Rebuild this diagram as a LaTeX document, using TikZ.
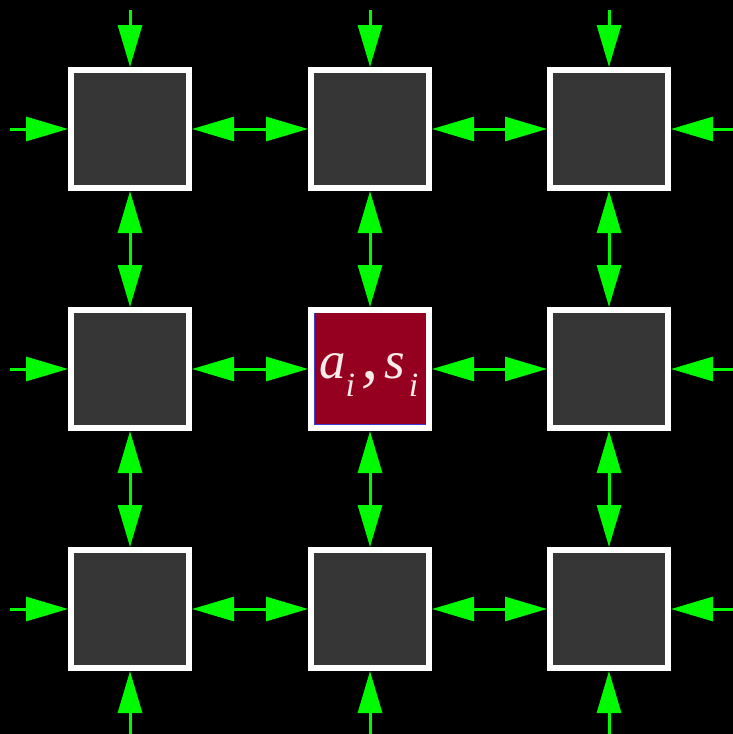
\documentclass[tikz,border=0pt]{standalone}
\usepackage{fontspec}
\setmainfont{Liberation Serif}
\usetikzlibrary{arrows.meta}
\definecolor{boxgray}{RGB}{54,54,54}
\definecolor{boxred}{RGB}{150,0,32}
\definecolor{arrgreen}{RGB}{0,250,0}
\definecolor{edgeblue}{RGB}{60,60,210}
\definecolor{txt}{RGB}{250,235,235}
\newcommand{\subi}{\raisebox{-18pt}{\fontsize{34}{34}\selectfont\itshape i}}
\tikzset{
  cell/.style={draw=white, line width=6pt, fill=boxgray, minimum size=118pt, inner sep=0pt, outer sep=0.5\pgflinewidth},
  redcell/.style={cell, fill=boxred},
  link/.style={draw=arrgreen, line width=3pt, arrows={Triangle[length=42pt,width=24pt]-Triangle[length=42pt,width=24pt]}},
  inlink/.style={draw=arrgreen, line width=3pt, arrows={-Triangle[length=42pt,width=24pt]}}
}
\begin{document}
\begin{tikzpicture}[x=1pt,y=-1pt]
\fill[black] (0,0) rectangle (733,734);
\useasboundingbox (0,0) rectangle (733,734);
% cells
\node[cell] (c11) at (130,129) {};
\node[cell] (c12) at (370,129) {};
\node[cell] (c13) at (609,129) {};
\node[cell] (c21) at (130,369) {};
\node[redcell] (c22) at (370,369) {};
\node[cell] (c23) at (609,369) {};
\node[cell] (c31) at (130,609) {};
\node[cell] (c32) at (370,609) {};
\node[cell] (c33) at (609,609) {};
\draw[edgeblue, line width=0.8pt] (314.5,313) -- (314.5,424.5) -- (426,424.5);
\node[inner sep=0pt, anchor=base west, text=txt] (lab) at (319,378)
  {\fontsize{53}{53}\selectfont\itshape a\kern0pt\subi\kern6pt\scalebox{1.3}{,}\kern6pt s\kern4pt\subi};
% free ends
\coordinate (t1) at (130,10);
\coordinate (t2) at (370,10);
\coordinate (t3) at (609,10);
\coordinate (b1) at (130,734);
\coordinate (b2) at (370,734);
\coordinate (b3) at (609,734);
\coordinate (l1) at (10,129);
\coordinate (l2) at (10,369);
\coordinate (l3) at (10,609);
\coordinate (r1) at (733,129);
\coordinate (r2) at (733,369);
\coordinate (r3) at (733,609);
% incoming arrows
\draw[inlink] (t1) -- (c11.north);
\draw[inlink] (t2) -- (c12.north);
\draw[inlink] (t3) -- (c13.north);
\draw[inlink] (b1) -- (c31.south);
\draw[inlink] (b2) -- (c32.south);
\draw[inlink] (b3) -- (c33.south);
\draw[inlink] (l1) -- (c11.west);
\draw[inlink] (l2) -- (c21.west);
\draw[inlink] (l3) -- (c31.west);
\draw[inlink] (r1) -- (c13.east);
\draw[inlink] (r2) -- (c23.east);
\draw[inlink] (r3) -- (c33.east);
% horizontal links
\draw[link] (c11.east) -- (c12.west);
\draw[link] (c12.east) -- (c13.west);
\draw[link] (c21.east) -- (c22.west);
\draw[link] (c22.east) -- (c23.west);
\draw[link] (c31.east) -- (c32.west);
\draw[link] (c32.east) -- (c33.west);
% vertical links
\draw[link] (c11.south) -- (c21.north);
\draw[link] (c21.south) -- (c31.north);
\draw[link] (c12.south) -- (c22.north);
\draw[link] (c22.south) -- (c32.north);
\draw[link] (c13.south) -- (c23.north);
\draw[link] (c23.south) -- (c33.north);
\end{tikzpicture}
\end{document}
